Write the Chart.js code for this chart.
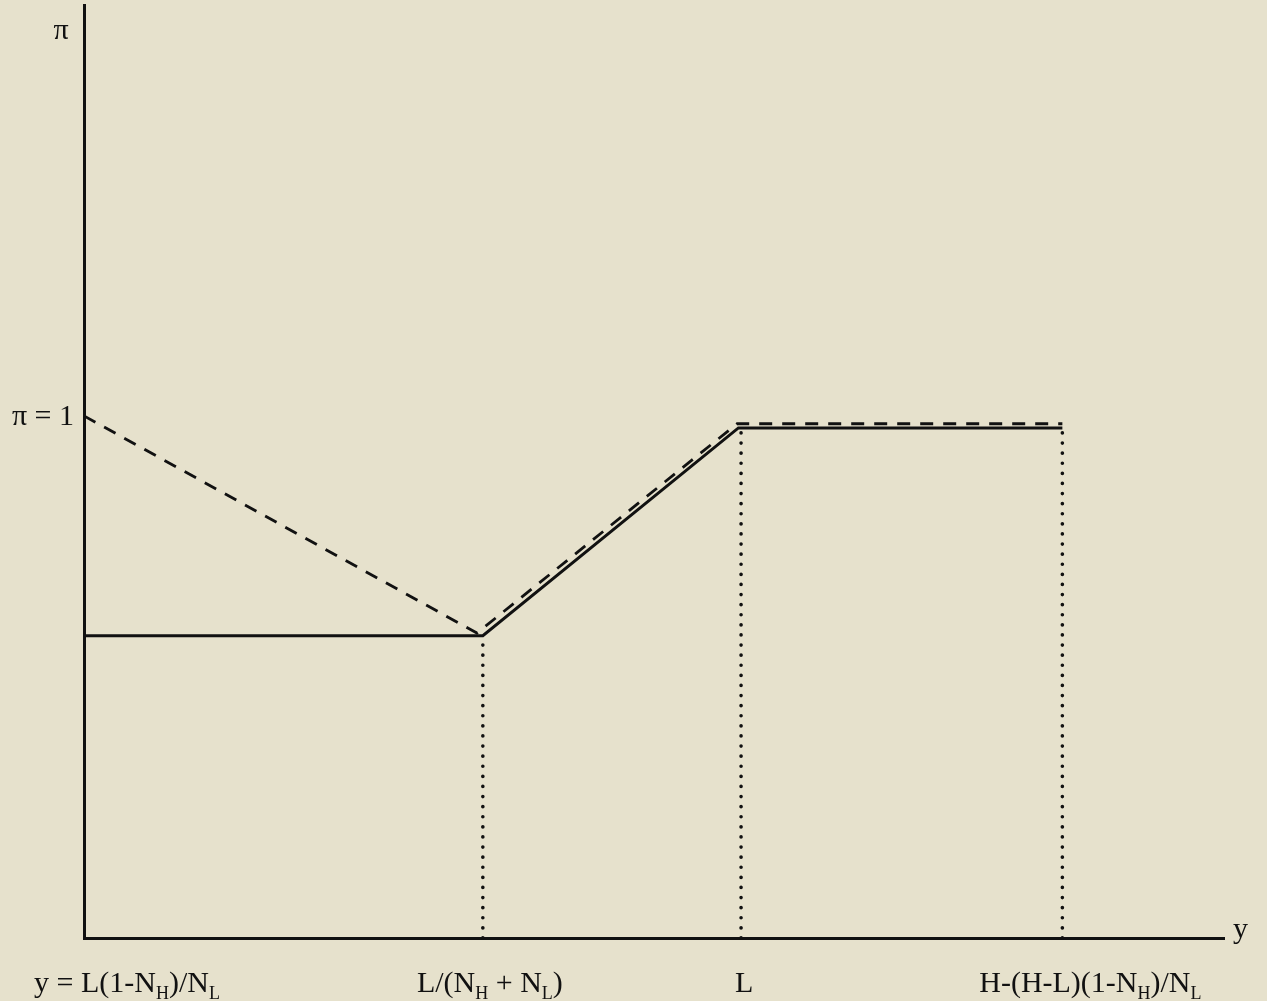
<!DOCTYPE html>
<html>
<head>
<meta charset="utf-8">
<script src="https://cdn.jsdelivr.net/npm/chart.js@4.4.1/dist/chart.umd.min.js"></script>
<style>
  html, body { margin: 0; padding: 0; background: #e6e1cc; }
  #wrap { width: 1267px; height: 1001px; }
</style>
</head>
<body>
<div id="wrap"><canvas id="diagram"></canvas></div>
<script>
// values in units where L = 1 on the horizontal axis and pi = 1 on the vertical one
const tickValues = [0, 0.607, 1, 1.489];
const tickLabels = ['y = L(1-N_{H})/N_{L}', 'L/(N_{H} + N_{L})', 'L', 'H-(H-L)(1-N_{H})/N_{L}'];

const solidX = [0, 0.607, 0.996, 1.489];
const solidY = [0.579, 0.579, 0.977, 0.977];

const dashedX = [0, 0.598, 0.994, 1.489];
const dashedY = [1, 0.584, 0.985, 0.985];

const dropX = [0.607, 1, 1.489];
const dropTop = [0.575, 0.97, 0.97];

const piOne = 1;
const xMax = 1.735;
const yMax = 1.787;

const ink = '#111';
const serif = '"Liberation Serif", "DejaVu Serif", serif';

const toPoints = (xs, ys) => xs.map((x, i) => ({ x: x, y: ys[i] }));

const datasets = [
    {
        label: 'solid',
        data: toPoints(solidX, solidY),
        borderColor: ink,
        borderWidth: 3,
    },
    {
        label: 'dashed',
        data: toPoints(dashedX, dashedY),
        borderColor: ink,
        borderWidth: 2.8,
        borderDash: [13, 10],
    }
];

dropX.forEach((x, i) => {
    datasets.push({
        label: 'drop' + i,
        data: [{ x: x, y: 0 }, { x: x, y: dropTop[i] }],
        borderColor: ink,
        borderWidth: 3.6,
        borderDash: [0.1, 10],
        borderCapStyle: 'round',
    });
});

// draw "N_{H}" style text with real subscripts
function richText(ctx, str, x, y, size, align) {
    const parts = [];
    str.split(/(_\{[^}]*\})/).forEach(p => {
        if (!p) return;
        if (p.startsWith('_{')) parts.push({ t: p.slice(2, -1), sub: true });
        else parts.push({ t: p, sub: false });
    });
    const subSize = Math.round(size * 0.6);
    let total = 0;
    parts.forEach(p => {
        ctx.font = (p.sub ? subSize : size) + 'px ' + serif;
        p.w = ctx.measureText(p.t).width;
        total += p.w;
    });
    let cx = align === 'center' ? x - total / 2 : (align === 'right' ? x - total : x);
    ctx.textAlign = 'left';
    ctx.textBaseline = 'alphabetic';
    parts.forEach(p => {
        ctx.font = (p.sub ? subSize : size) + 'px ' + serif;
        ctx.fillText(p.t, cx, p.sub ? y + 7 : y);
        cx += p.w;
    });
}

const labelOffsets = [43, 7, 3, 28];

const textPlugin = {
    id: 'diagramText',
    afterDraw(chart) {
        const ctx = chart.ctx;
        const xs = chart.scales.x;
        const ys = chart.scales.y;
        ctx.save();
        ctx.fillStyle = ink;
        tickValues.forEach((v, i) => {
            richText(ctx, tickLabels[i], xs.getPixelForValue(v) + labelOffsets[i], 992, 30, 'center');
        });
        richText(ctx, '\u03c0 = 1', xs.left - 10, ys.getPixelForValue(piOne) + 9, 30, 'right');
        richText(ctx, '\u03c0', xs.left - 23, 39, 30, 'center');
        richText(ctx, 'y', xs.right + 9, 938, 30, 'left');
        ctx.restore();
    }
};

new Chart(document.getElementById('diagram'), {
    type: 'scatter',
    data: { datasets: datasets },
    options: {
        responsive: true,
        maintainAspectRatio: false,
        animation: false,
        showLine: true,
        elements: { point: { radius: 0, hoverRadius: 0 }, line: { tension: 0 } },
        layout: { padding: { left: 84, top: 5, right: 43, bottom: 63 } },
        plugins: { legend: { display: false }, tooltip: { enabled: false } },
        datasets: { scatter: { clip: false } },
        scales: {
            x: {
                type: 'linear',
                min: 0,
                max: xMax,
                afterBuildTicks: scale => { scale.ticks = tickValues.map(v => ({ value: v })); },
                afterFit: scale => { scale.height = 0; },
                grid: { display: false, drawTicks: false },
                ticks: { display: false },
                border: { display: true, color: ink, width: 3 }
            },
            y: {
                type: 'linear',
                min: 0,
                max: yMax,
                afterFit: scale => { scale.width = 0; },
                grid: { display: false, drawTicks: false },
                ticks: { display: false },
                border: { display: true, color: ink, width: 3 }
            }
        }
    },
    plugins: [textPlugin]
});
</script>
</body>
</html>
